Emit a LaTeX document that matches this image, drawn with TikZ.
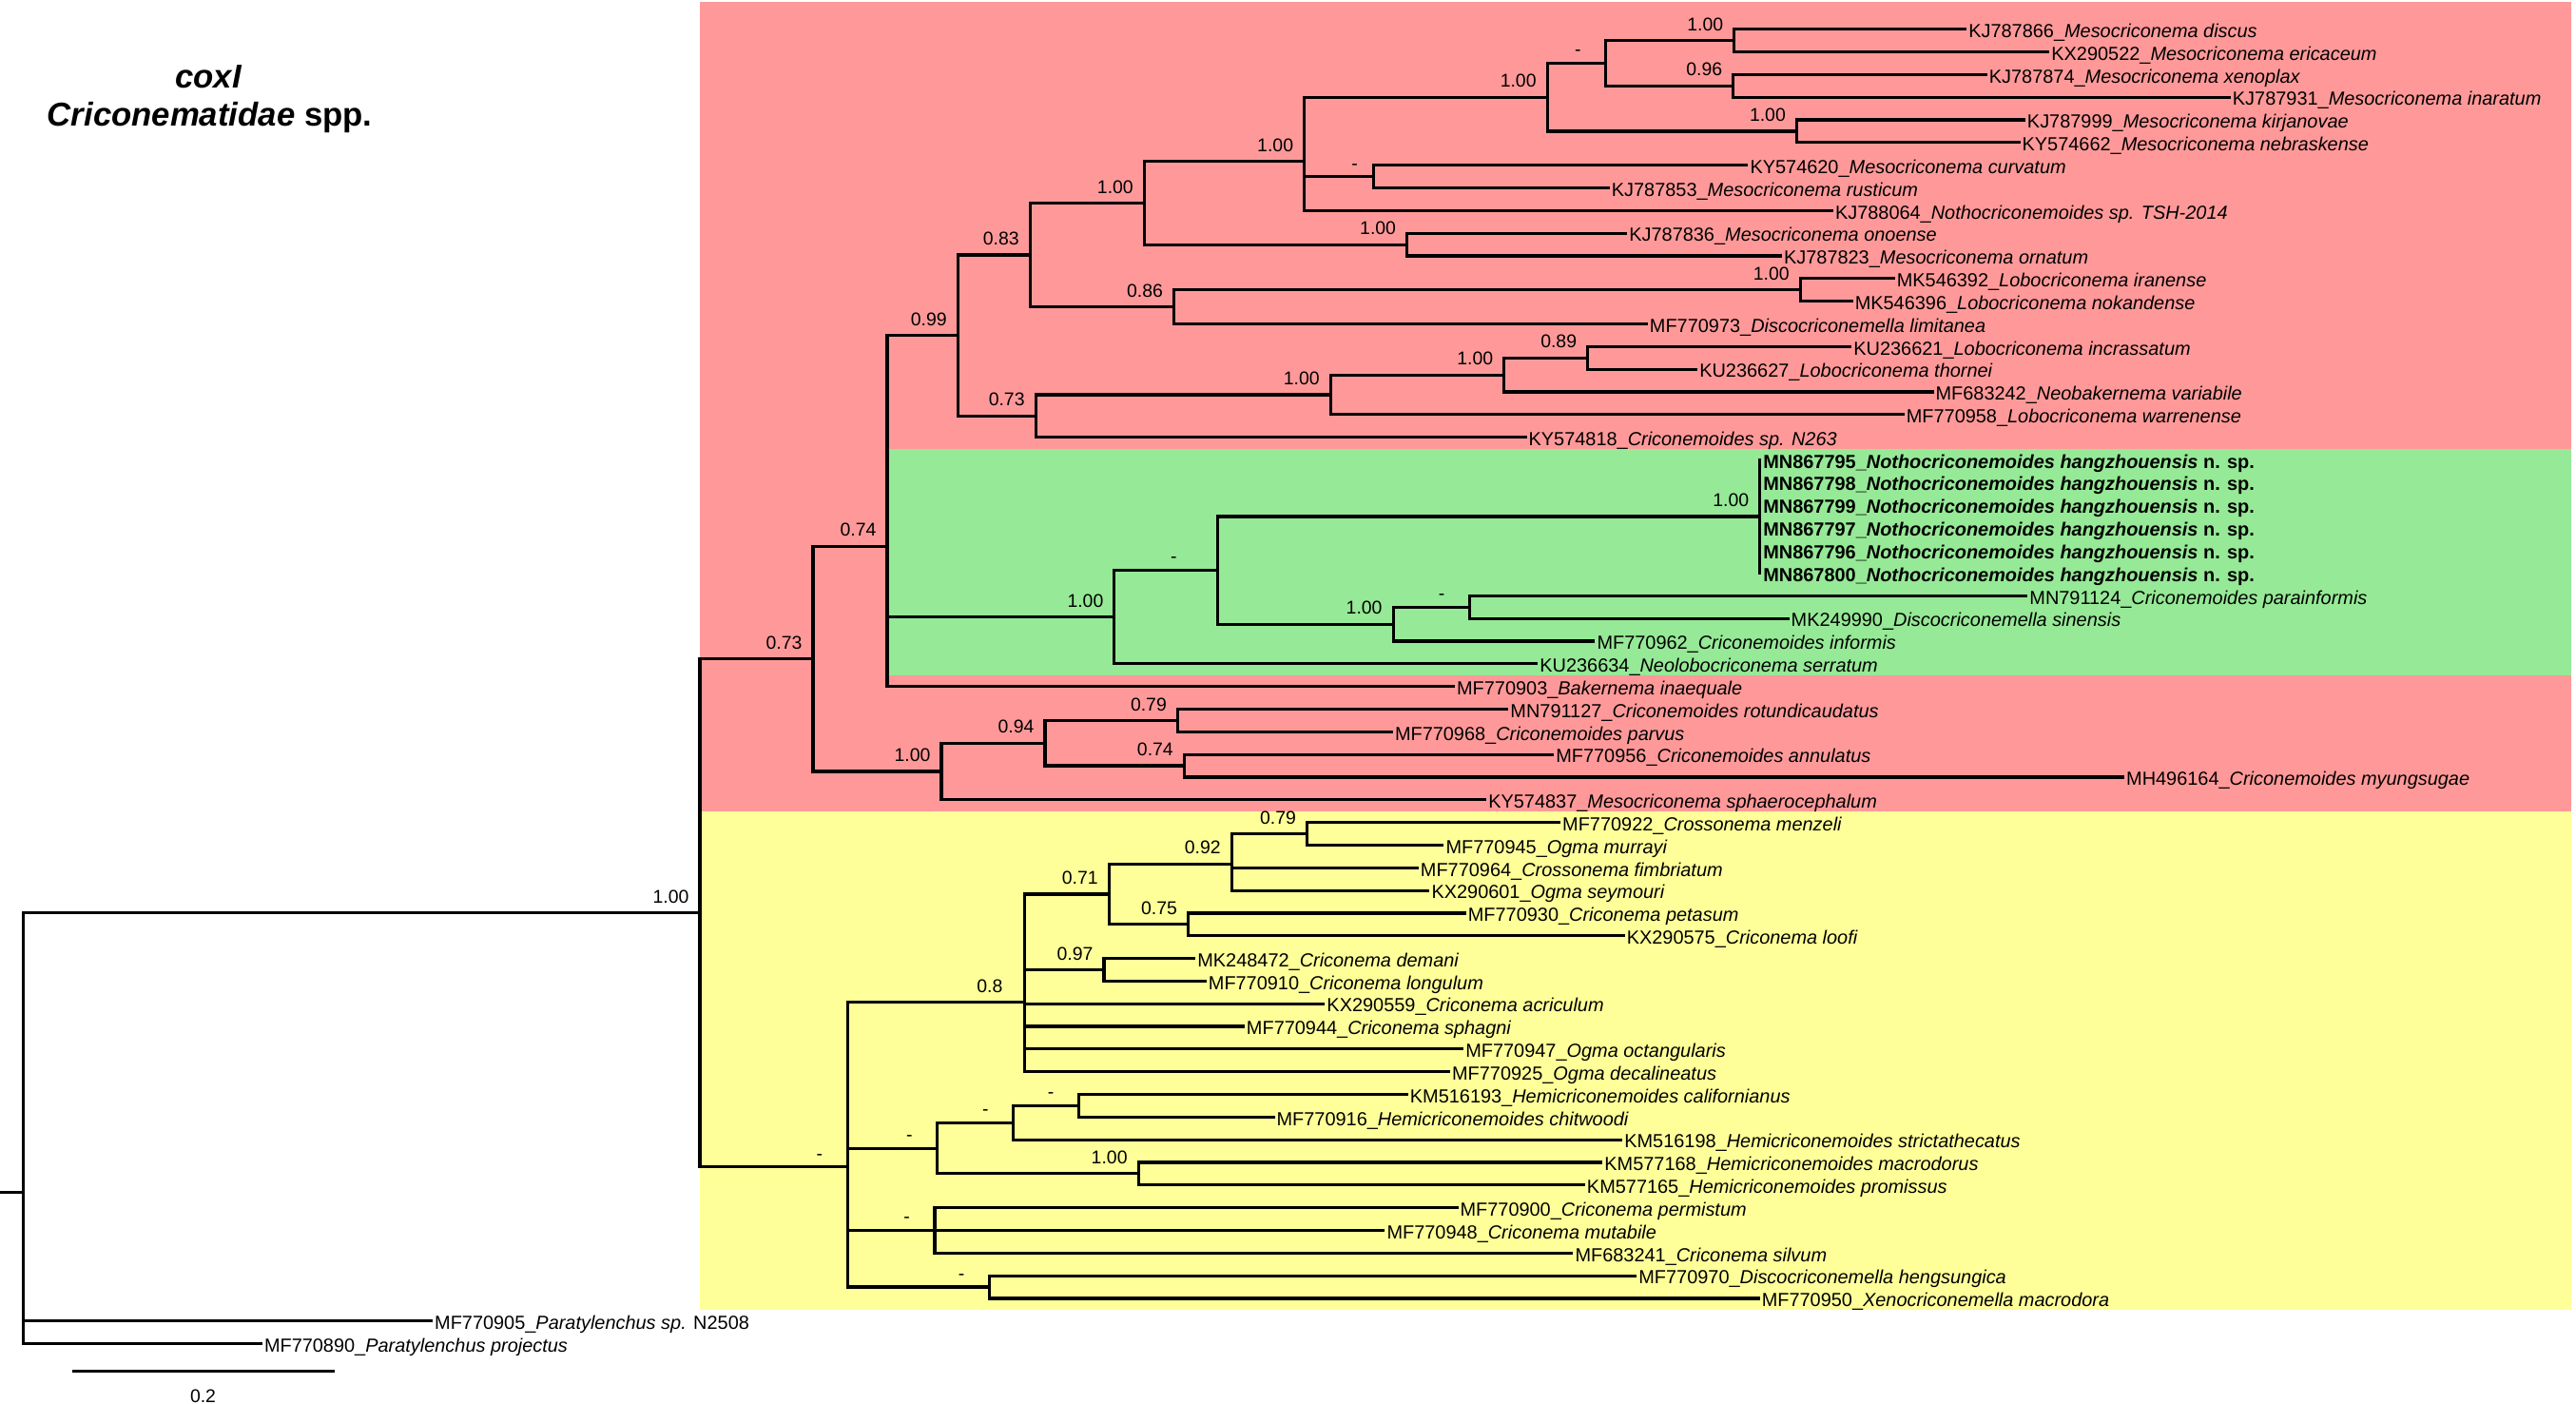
\documentclass[tikz,border=0pt]{standalone}
\usepackage{fontspec}
\setmainfont{Liberation Sans}
\usepackage{tikz}
\usetikzlibrary{positioning}
\definecolor{cladered}{HTML}{FF9999}
\definecolor{cladegreen}{HTML}{96E996}
\definecolor{cladeyellow}{HTML}{FFFF99}
\tikzset{
    branch/.style={line width=1.3pt, line cap=rect},
    taxon/.style={
        anchor=west, inner xsep=1.3pt, inner ysep=0pt,
        text height=0.72em, text depth=0pt,
        font=\fontsize{8.2}{9}\selectfont
    },
    taxonnew/.style={taxon, font=\fontsize{8.2}{9}\selectfont\bfseries},
    support/.style={
        anchor=base east, inner sep=0pt, xshift=-0.16cm, yshift=0.15cm,
        font=\fontsize{8}{9}\selectfont
    },
    nosupport/.style={
        anchor=base, inner sep=0pt, xshift=-0.425cm, yshift=0.11cm,
        font=\fontsize{8}{9}\selectfont
    },
    heading/.style={text height=0.72em, text depth=0pt, inner sep=0pt,
        font=\fontsize{14.3}{16}\selectfont\bfseries},
}

\begin{document}
\begin{tikzpicture}[x=0.025cm, y=-0.025cm]
    \useasboundingbox (0,0) rectangle (1568,854);
    \fill[white] (0,0) rectangle (1568,854);
    % clade backgrounds
    \fill[cladered] (425.8,1) rectangle (1565,493.5);
    \fill[cladeyellow] (425.8,493.5) rectangle (1565,796.8);
    \fill[cladegreen] (541,273) rectangle (1565,411);

    \node[heading] (gene) at (127,48.2) {\textit{coxI}};
    \node[heading] (family) at (127.7,71.6) {\textit{Criconematidae} spp.};

    % internal nodes
    \coordinate (base) at (0,725.66);
    \coordinate (root) at (14.3,725.66);
    \coordinate (ing) at (426,555.53);
    \coordinate (c73) at (494.9,400.93);
    \coordinate (c74) at (540,332.43);
    \coordinate (c99) at (583,204.11);
    \coordinate (c83) at (627,155.13);
    \coordinate (c100a) at (696.5,123.53);
    \coordinate (c100b) at (793.9,98.24);
    \coordinate (c100c) at (941.8,59.17);
    \coordinate (cd0) at (977.5,38.49);
    \coordinate (c100h) at (1055.6,24.70);
    \coordinate (c96) at (1055,52.28);
    \coordinate (c100i) at (1093.6,79.86);
    \coordinate (cd1) at (836,107.44);
    \coordinate (c100d) at (856.4,148.81);
    \coordinate (c86) at (714.5,186.73);
    \coordinate (c100e) at (1095.8,176.39);
    \coordinate (c73b) at (630.4,253.10);
    \coordinate (c100f) at (809.9,240.17);
    \coordinate (c100g) at (915.5,228.10);
    \coordinate (c89) at (966.4,217.76);
    \coordinate (c100j) at (678.3,375.48);
    \coordinate (cdg) at (741.4,347.04);
    \coordinate (chz) at (1071.2,314.29);
    \coordinate (c100k) at (848,379.79);
    \coordinate (cd2) at (894.6,369.45);
    \coordinate (c100l) at (573,469.43);
    \coordinate (c94) at (636.1,452.19);
    \coordinate (c79) at (716.8,438.40);
    \coordinate (c74b) at (720.8,465.98);
    \coordinate (cy) at (515.8,710.13);
    \coordinate (c08) at (623.8,610.0);
    \coordinate (c71) at (675,544.12);
    \coordinate (c92) at (749.7,525.73);
    \coordinate (c79b) at (795.6,507.35);
    \coordinate (c75) at (723.2,562.51);
    \coordinate (c97) at (672,590.09);
    \coordinate (cd5) at (570.6,698.69);
    \coordinate (cd4) at (616.8,683.17);
    \coordinate (cd3) at (656.7,672.83);
    \coordinate (c100m) at (692.9,714.20);
    \coordinate (cd6) at (569,748.67);
    \coordinate (cd7) at (602.2,783.15);

    % taxa
    \node[taxon] (KJ787866) at (1196.2,17.80) {KJ787866\_\textit{Mesocriconema discus}};
    \node[taxon] (KX290522) at (1246.6,31.59) {KX290522\_\textit{Mesocriconema ericaceum}};
    \node[taxon] (KJ787874) at (1208.7,45.38) {KJ787874\_\textit{Mesocriconema xenoplax}};
    \node[taxon] (KJ787931) at (1356.9,59.17) {KJ787931\_\textit{Mesocriconema inaratum}};
    \node[taxon] (KJ787999) at (1231.9,72.96) {KJ787999\_\textit{Mesocriconema kirjanovae}};
    \node[taxon] (KY574662) at (1228.8,86.75) {KY574662\_\textit{Mesocriconema nebraskense}};
    \node[taxon] (KY574620) at (1063.2,100.54) {KY574620\_\textit{Mesocriconema curvatum}};
    \node[taxon] (KJ787853) at (978.9,114.33) {KJ787853\_\textit{Mesocriconema rusticum}};
    \node[taxon] (KJ788064) at (1115,128.12) {KJ788064\_\textit{Nothocriconemoides sp. TSH-2014}};
    \node[taxon] (KJ787836) at (989.6,141.91) {KJ787836\_\textit{Mesocriconema onoense}};
    \node[taxon] (KJ787823) at (1083.8,155.70) {KJ787823\_\textit{Mesocriconema ornatum}};
    \node[taxon] (MK546392) at (1152.5,169.49) {MK546392\_\textit{Lobocriconema iranense}};
    \node[taxon] (MK546396) at (1127,183.28) {MK546396\_\textit{Lobocriconema nokandense}};
    \node[taxon] (MF770973) at (1002.1,197.07) {MF770973\_\textit{Discocriconemella limitanea}};
    \node[taxon] (KU236621) at (1126.2,210.86) {KU236621\_\textit{Lobocriconema incrassatum}};
    \node[taxon] (KU236627) at (1032.4,224.65) {KU236627\_\textit{Lobocriconema thornei}};
    \node[taxon] (MF683242) at (1176.1,238.44) {MF683242\_\textit{Neobakernema variabile}};
    \node[taxon] (MF770958) at (1158.3,252.23) {MF770958\_\textit{Lobocriconema warrenense}};
    \node[taxon] (KY574818) at (928.4,266.02) {KY574818\_\textit{Criconemoides sp. N263}};
    \node[taxonnew] (MN867795) at (1071.2,279.81) {MN867795\_\textit{Nothocriconemoides hangzhouensis} n. sp.};
    \node[taxonnew] (MN867798) at (1071.2,293.60) {MN867798\_\textit{Nothocriconemoides hangzhouensis} n. sp.};
    \node[taxonnew] (MN867799) at (1071.2,307.39) {MN867799\_\textit{Nothocriconemoides hangzhouensis} n. sp.};
    \node[taxonnew] (MN867797) at (1071.2,321.18) {MN867797\_\textit{Nothocriconemoides hangzhouensis} n. sp.};
    \node[taxonnew] (MN867796) at (1071.2,334.97) {MN867796\_\textit{Nothocriconemoides hangzhouensis} n. sp.};
    \node[taxonnew] (MN867800) at (1071.2,348.76) {MN867800\_\textit{Nothocriconemoides hangzhouensis} n. sp.};
    \node[taxon] (MN791124) at (1233.3,362.55) {MN791124\_\textit{Criconemoides parainformis}};
    \node[taxon] (MK249990) at (1088.2,376.34) {MK249990\_\textit{Discocriconemella sinensis}};
    \node[taxon] (MF770962) at (970,390.13) {MF770962\_\textit{Criconemoides informis}};
    \node[taxon] (KU236634) at (935.2,403.92) {KU236634\_\textit{Neolobocriconema serratum}};
    \node[taxon] (MF770903) at (884.7,417.71) {MF770903\_\textit{Bakernema inaequale}};
    \node[taxon] (MN791127) at (917.3,431.50) {MN791127\_\textit{Criconemoides rotundicaudatus}};
    \node[taxon] (MF770968) at (847,445.29) {MF770968\_\textit{Criconemoides parvus}};
    \node[taxon] (MF770956) at (945,459.08) {MF770956\_\textit{Criconemoides annulatus}};
    \node[taxon] (MH496164) at (1292.2,472.87) {MH496164\_\textit{Criconemoides myungsugae}};
    \node[taxon] (KY574837) at (903.9,486.66) {KY574837\_\textit{Mesocriconema sphaerocephalum}};
    \node[taxon] (MF770922) at (949,500.45) {MF770922\_\textit{Crossonema menzeli}};
    \node[taxon] (MF770945) at (878,514.24) {MF770945\_\textit{Ogma murrayi}};
    \node[taxon] (MF770964) at (862.6,528.03) {MF770964\_\textit{Crossonema fimbriatum}};
    \node[taxon] (KX290601) at (869.3,541.82) {KX290601\_\textit{Ogma seymouri}};
    \node[taxon] (MF770930) at (891.5,555.61) {MF770930\_\textit{Criconema petasum}};
    \node[taxon] (KX290575) at (988.1,569.40) {KX290575\_\textit{Criconema loofi}};
    \node[taxon] (MK248472) at (726.8,583.19) {MK248472\_\textit{Criconema demani}};
    \node[taxon] (MF770910) at (733.5,596.98) {MF770910\_\textit{Criconema longulum}};
    \node[taxon] (KX290559) at (805.6,610.77) {KX290559\_\textit{Criconema acriculum}};
    \node[taxon] (MF770944) at (756.7,624.56) {MF770944\_\textit{Criconema sphagni}};
    \node[taxon] (MF770947) at (890,638.35) {MF770947\_\textit{Ogma octangularis}};
    \node[taxon] (MF770925) at (881.8,652.14) {MF770925\_\textit{Ogma decalineatus}};
    \node[taxon] (KM516193) at (856.2,665.93) {KM516193\_\textit{Hemicriconemoides californianus}};
    \node[taxon] (MF770916) at (775,679.72) {MF770916\_\textit{Hemicriconemoides chitwoodi}};
    \node[taxon] (KM516198) at (986.7,693.51) {KM516198\_\textit{Hemicriconemoides strictathecatus}};
    \node[taxon] (KM577168) at (974.6,707.30) {KM577168\_\textit{Hemicriconemoides macrodorus}};
    \node[taxon] (KM577165) at (963.9,721.09) {KM577165\_\textit{Hemicriconemoides promissus}};
    \node[taxon] (MF770900) at (886.7,734.88) {MF770900\_\textit{Criconema permistum}};
    \node[taxon] (MF770948) at (842.1,748.67) {MF770948\_\textit{Criconema mutabile}};
    \node[taxon] (MF683241) at (956.7,762.46) {MF683241\_\textit{Criconema silvum}};
    \node[taxon] (MF770970) at (995.4,776.25) {MF770970\_\textit{Discocriconemella hengsungica}};
    \node[taxon] (MF770950) at (1070.3,790.04) {MF770950\_\textit{Xenocriconemella macrodora}};
    \node[taxon] (MF770905) at (262.5,803.83) {MF770905\_\textit{Paratylenchus sp.} N2508};
    \node[taxon] (MF770890) at (158.8,817.62) {MF770890\_\textit{Paratylenchus projectus}};

    % branches
    \draw[branch] (base) -- (root);
    \foreach \p/\c in {root/ing, root/MF770905, root/MF770890,
        ing/c73, ing/cy, c73/c74, c73/c100l,
        c74/c99, c74/c100j, c74/MF770903, c99/c83, c99/c73b,
        c83/c100a, c83/c86, c100a/c100b, c100a/c100d,
        c100b/c100c, c100b/cd1, c100b/KJ788064, c100c/cd0, c100c/c100i,
        cd0/c100h, cd0/c96, c100h/KJ787866, c100h/KX290522,
        c96/KJ787874, c96/KJ787931, c100i/KJ787999, c100i/KY574662,
        cd1/KY574620, cd1/KJ787853, c100d/KJ787836, c100d/KJ787823,
        c86/c100e, c86/MF770973, c100e/MK546392, c100e/MK546396,
        c73b/c100f, c73b/KY574818, c100f/c100g, c100f/MF770958,
        c100g/c89, c100g/MF683242, c89/KU236621, c89/KU236627,
        c100j/cdg, c100j/KU236634, cdg/chz, cdg/c100k,
        chz/MN867795, chz/MN867798, chz/MN867799, chz/MN867797, chz/MN867796, chz/MN867800,
        c100k/cd2, c100k/MF770962, cd2/MN791124, cd2/MK249990,
        c100l/c94, c100l/KY574837, c94/c79, c94/c74b,
        c79/MN791127, c79/MF770968, c74b/MF770956, c74b/MH496164,
        cy/c08, cy/cd5, cy/cd6, cy/cd7,
        c08/c71, c08/c97, c08/KX290559, c08/MF770944, c08/MF770947, c08/MF770925,
        c71/c92, c71/c75, c92/c79b, c92/MF770964, c92/KX290601,
        c79b/MF770922, c79b/MF770945, c75/MF770930, c75/KX290575,
        c97/MK248472, c97/MF770910,
        cd5/cd4, cd5/c100m, cd4/cd3, cd4/KM516198, cd3/KM516193, cd3/MF770916,
        c100m/KM577168, c100m/KM577165,
        cd6/MF770900, cd6/MF770948, cd6/MF683241, cd7/MF770970, cd7/MF770950}
        \draw[branch] (\p) |- (\c);

    % posterior probabilities
    \foreach \n/\v in {ing/1.00, c73/0.73, c74/0.74, c99/0.99, c83/0.83,
        c100a/1.00, c100b/1.00, c100c/1.00, c100h/1.00, c96/0.96, c100i/1.00,
        c100d/1.00, c86/0.86, c100e/1.00, c73b/0.73, c100f/1.00, c100g/1.00,
        c89/0.89, c100j/1.00, chz/1.00, c100k/1.00, c100l/1.00, c94/0.94,
        c79/0.79, c74b/0.74, c71/0.71, c92/0.92, c79b/0.79, c75/0.75,
        c97/0.97, c100m/1.00}
        \node[support] (s\n) at (\n) {\v};
    \node[support, xshift=-0.17cm] (sc08) at (c08) {0.8};
    \foreach \n in {cd0, cd2, cy, cd3, cd4, cd5, cd6, cd7}
        \node[nosupport] (s\n) at (\n) {-};
    \node[nosupport, xshift=0.14cm] (scd1) at (cd1) {-};
    \node[nosupport, xshift=-0.25cm] (scdg) at (cdg) {-};

    % scale bar
    \coordinate (barl) at (44.9,834.4);
    \coordinate (barr) at (202.7,834.4);
    \draw[branch, line width=1.5pt] (barl) -- (barr);
    \node[anchor=base, inner sep=0pt, font=\fontsize{8}{9}\selectfont] (barlabel) at (123.6,853.3) {0.2};
\end{tikzpicture}
\end{document}
